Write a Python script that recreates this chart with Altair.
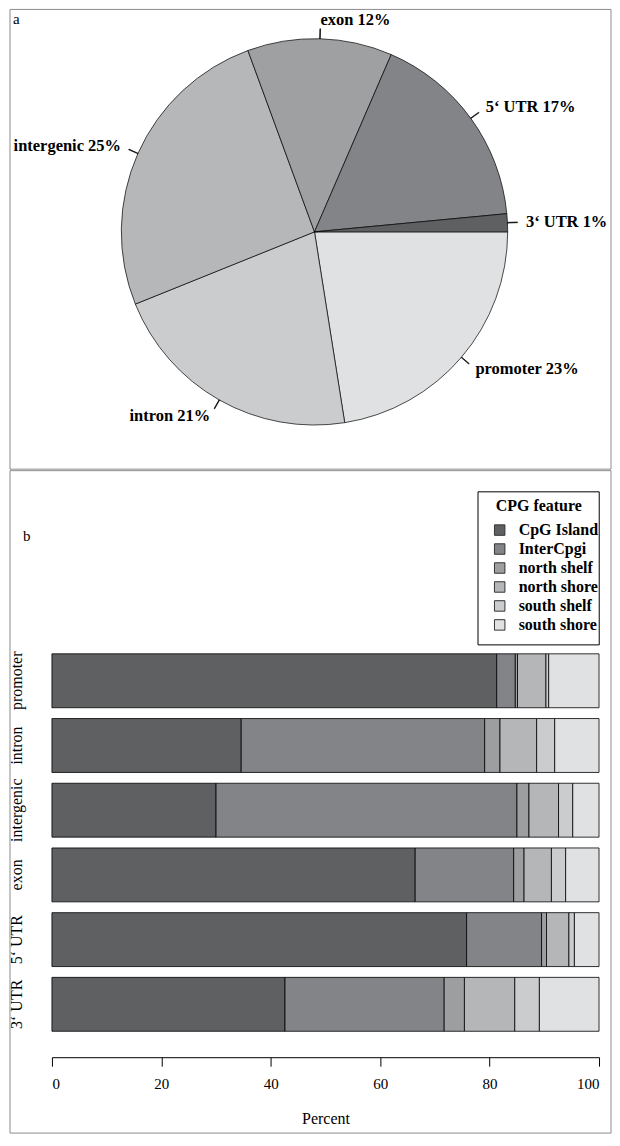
import math
import altair as alt
import pandas as pd

# ---------------- panel a : pie ----------------
pie_regions = ["promoter", "intron", "intergenic", "exon", "5\u2018 UTR", "3\u2018 UTR"]
pie_values = [22.5, 21.4, 25.5, 12.1, 17.0, 1.5]
pie_pct_labels = ["23%", "21%", "25%", "12%", "17%", "1%"]
pie_colors = ["#e0e1e2", "#cbcccd", "#b6b7b9", "#9fa0a2", "#838488", "#5f6062"]

# ---------------- panel b : stacked bars ----------------
bar_regions = ["promoter", "intron", "intergenic", "exon", "5\u2018 UTR", "3\u2018 UTR"]
features = ["CpG Island", "InterCpgi", "north shelf", "north shore", "south shelf", "south shore"]
feature_colors = ["#5f6062", "#838488", "#9d9ea0", "#b5b6b8", "#cbcccd", "#e0e1e2"]
cpg_island = [81.3, 34.6, 30.0, 66.4, 75.8, 42.6]
inter_cpgi = [3.4, 44.5, 55.0, 18.0, 13.7, 29.1]
north_shelf = [0.4, 2.8, 2.2, 1.9, 0.9, 3.7]
north_shore = [5.2, 6.7, 5.4, 5.0, 4.1, 9.2]
south_shelf = [0.5, 3.3, 2.6, 2.6, 1.0, 4.5]
south_shore = [9.2, 8.1, 4.8, 6.1, 4.5, 10.9]
x_ticks = [0, 20, 40, 60, 80, 100]

FONT = "Liberation Serif"

pie_df = pd.DataFrame({
    "region": pie_regions,
    "value": pie_values,
    "label": [f"{r} {p}" for r, p in zip(pie_regions, pie_pct_labels)],
    "idx": list(range(len(pie_regions))),
})

series = [cpg_island, inter_cpgi, north_shelf, north_shore, south_shelf, south_shore]
rows = []
for fi, (feat, vals) in enumerate(zip(features, series)):
    for reg, v in zip(bar_regions, vals):
        rows.append({"region": reg, "feature": feat, "value": v, "fidx": fi})
bar_df = pd.DataFrame(rows)
one = pd.DataFrame({"k": [0]})

theta_scale = alt.Scale(domain=[0, 100], range=[math.pi / 2, math.pi / 2 + 2 * math.pi])
R = 193.5

base = alt.Chart(pie_df).transform_window(
    cum="sum(value)", sort=[alt.SortField("idx")]
).transform_calculate(
    start="datum.cum - datum.value",
    mid="datum.cum - datum.value / 2",
    lo="datum.cum - datum.value / 2 - 0.03",
    hi="datum.cum - datum.value / 2 + 0.03",
)

arcs = base.mark_arc(radius=R, stroke="black", strokeWidth=0.7).encode(
    theta=alt.Theta("start:Q", scale=theta_scale, stack=False),
    theta2="cum:Q",
    color=alt.Color("region:N", scale=alt.Scale(domain=pie_regions, range=pie_colors), legend=None),
)

ticks = base.mark_arc(radius=R, radius2=R + 10, fill="black", stroke="black", strokeWidth=0.6).encode(
    theta=alt.Theta("lo:Q", scale=theta_scale, stack=False),
    theta2="hi:Q",
)

lab_right = base.transform_filter("datum.mid < 25 || datum.mid > 75").mark_text(
    radius=212, align="left", baseline="middle", fontSize=16.5, fontWeight="bold", font=FONT, color="black"
).encode(theta=alt.Theta("mid:Q", scale=theta_scale, stack=False), text="label:N")

lab_left = base.transform_filter("datum.mid >= 25 && datum.mid <= 75").mark_text(
    radius=212, align="right", baseline="middle", fontSize=16.5, fontWeight="bold", font=FONT, color="black"
).encode(theta=alt.Theta("mid:Q", scale=theta_scale, stack=False), text="label:N")

border_a = alt.Chart(one).mark_rect(fillOpacity=0, stroke="#8c8c8c", strokeWidth=1).encode(
    x=alt.value(-42), x2=alt.value(560), y=alt.value(0.5), y2=alt.value(461)
)
letter_a = alt.Chart(one).mark_text(text="a", align="left", baseline="alphabetic", fontSize=15, font=FONT, color="black").encode(
    x=alt.value(-39), y=alt.value(15)
)

panel_a = alt.layer(border_a, arcs, ticks, lab_right, lab_left, letter_a).properties(width=526, height=446.6)

# ---------------- panel b ----------------
border_b = alt.Chart(one).mark_rect(fillOpacity=0, stroke="#8c8c8c", strokeWidth=1).encode(
    x=alt.value(-42), x2=alt.value(560), y=alt.value(-170.5), y2=alt.value(493)
)
legend_box = alt.Chart(one).mark_rect(fill="white", stroke="black", strokeWidth=1).encode(
    x=alt.value(426.8), x2=alt.value(548.2), y=alt.value(-149.3), y2=alt.value(4)
)
letter_b = alt.Chart(one).mark_text(text="b", align="left", baseline="alphabetic", fontSize=15, font=FONT, color="black").encode(
    x=alt.value(-29), y=alt.value(-100)
)

bars = alt.Chart(bar_df).mark_bar(stroke="black", strokeWidth=0.8).encode(
    x=alt.X(
        "value:Q", stack="zero",
        scale=alt.Scale(domain=[0, 100], nice=False),
        axis=alt.Axis(values=x_ticks, title="Percent", grid=False, tickSize=9, labelPadding=10,
                      titlePadding=19, offset=13, domainColor="black", tickColor="black",
                      labelFontSize=15, titleFontSize=16, titleFontWeight="normal",
                      labelColor="black", titleColor="black", labelFont=FONT, titleFont=FONT),
    ),
    y=alt.Y(
        "region:N", sort=bar_regions,
        scale=alt.Scale(paddingInner=0.167, paddingOuter=0.2),
        axis=alt.Axis(title=None, domain=False, ticks=False, tickSize=0, labelAngle=270,
                      labelAlign="center", labelBaseline="bottom", labelPadding=27.5,
                      labelFontSize=16, labelColor="black", labelFont=FONT),
    ),
    color=alt.Color(
        "feature:N",
        scale=alt.Scale(domain=features, range=feature_colors),
        legend=alt.Legend(title="CPG feature", orient="none", legendX=444.5, legendY=-143, padding=0,
                          titleFontSize=16, titleFontWeight="bold", labelFontSize=16, labelFontWeight="bold",
                          labelColor="black", titleColor="black", titleFont=FONT, labelFont=FONT,
                          symbolType="square", symbolSize=110, symbolStrokeColor="#333", symbolStrokeWidth=1,
                          symbolOffset=-4, labelOffset=11, rowPadding=3, titlePadding=8),
    ),
    order=alt.Order("fidx:Q"),
)

panel_b = alt.layer(border_b, legend_box, bars, letter_b).properties(width=548, height=404)

chart = (
    alt.vconcat(panel_a, panel_b, spacing=0)
    .resolve_scale(color="independent")
    .properties(padding=0)
    .configure(font=FONT)
    .configure_view(strokeWidth=0)
)

chart.save("out.html", embed_options={"renderer": "svg", "actions": False})
